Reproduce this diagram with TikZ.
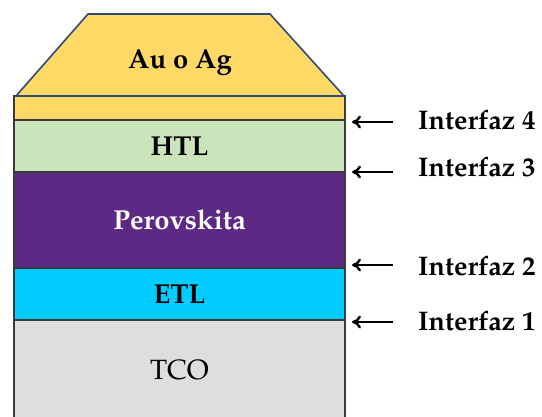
\documentclass[tikz,border=0pt]{standalone}
\usepackage[T1]{fontenc}
\renewcommand{\rmdefault}{ppl}
\usetikzlibrary{arrows.meta}
\definecolor{metal}{HTML}{FFD966}
\definecolor{metaledge}{HTML}{2F4B7C}
\definecolor{htlgreen}{HTML}{CCE4BC}
\definecolor{perov}{HTML}{5C2A84}
\definecolor{etlcyan}{HTML}{00CCFF}
\definecolor{tcogray}{HTML}{DEDEDE}
\definecolor{edge}{HTML}{3A3A3A}
\tikzset{
  layer/.style={draw=edge, line width=1.6bp, minimum width=331bp, inner sep=0pt, outer sep=0pt,
    font=\fontsize{27.5}{32}\selectfont\bfseries},
  lab/.style={anchor=west, inner sep=0pt, font=\fontsize{27}{32}\selectfont\bfseries},
  arr/.style={-{To[length=9bp,width=13bp]}, line width=2.4bp, black}
}
\begin{document}
\begin{tikzpicture}[x=1bp, y=-1bp]
  \useasboundingbox (0,0) rectangle (542,416);
  \begin{scope}
    \clip (0,0) rectangle (542,416);
    % substrate and stack, bottom to top
    \node[layer, fill=tcogray, minimum height=100bp, font=\fontsize{28}{32}\selectfont] (tco) at (179.5,370) {TCO};
    \node[layer, fill=etlcyan, minimum height=52bp] (etl) at (179.5,294) {ETL};
    \node[layer, fill=perov, minimum height=96bp, text=white] (pero) at (179.5,220) {Perovskita};
    \node[layer, fill=htlgreen, minimum height=52bp] (htl) at (179.5,146) {HTL};
    \node[layer, fill=metal, minimum height=24bp] (film) at (179.5,108) {};
    % metal contact
    \draw[fill=metal, draw=metaledge, line width=1.6bp]
      (16,96) -- (88,14) -- (270,14) -- (344,96) -- cycle;
    \node[font=\fontsize{27.5}{32}\selectfont\bfseries] (contact) at (180,62) {Au o Ag};
  \end{scope}
  % interface labels
  \node[lab] (i4) at (418,120) {Interfaz 4};
  \node[lab] (i3) at (418,167) {Interfaz 3};
  \node[lab] (i2) at (418,266) {Interfaz 2};
  \node[lab] (i1) at (418,321) {Interfaz 1};
  \coordinate (p4) at (352,122);
  \coordinate (p3) at (352,172);
  \coordinate (p2) at (352,265);
  \coordinate (p1) at (352,322);
  \draw[arr] ([xshift=-25bp]i4.west |- p4) -- (p4);
  \draw[arr] ([xshift=-25bp]i3.west |- p3) -- (p3);
  \draw[arr] ([xshift=-25bp]i2.west |- p2) -- (p2);
  \draw[arr] ([xshift=-25bp]i1.west |- p1) -- (p1);
\end{tikzpicture}
\end{document}
